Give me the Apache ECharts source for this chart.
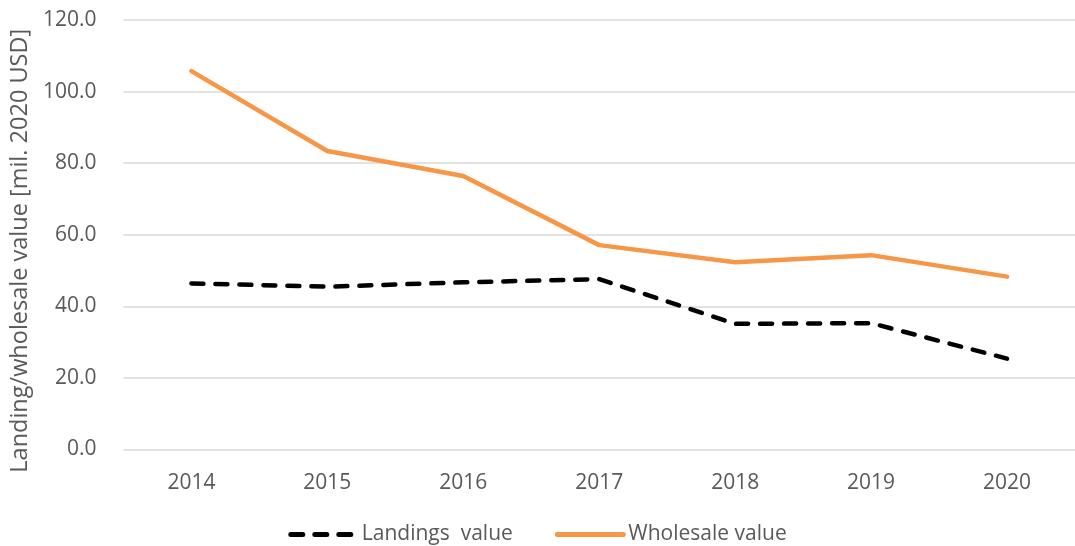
<!DOCTYPE html>
<html>
<head>
<meta charset="utf-8">
<script src="https://cdn.jsdelivr.net/npm/echarts@6/dist/echarts.min.js"></script>
<style>
  html, body { margin: 0; padding: 0; background: #fff; }
  #chart { width: 1075px; height: 546px; }
</style>
</head>
<body>
<div id="chart"></div>
<script>
const years = ['2014', '2015', '2016', '2017', '2018', '2019', '2020']
const landings = [46.4, 45.5, 46.7, 47.6, 35.1, 35.3, 25.4]
const wholesale = [105.7, 83.4, 76.4, 57.1, 52.3, 54.3, 48.3]
const yTicks = [0, 20, 40, 60, 80, 100, 120]

const textColor = '#595959'
const font = '"Open Sans", "Noto Sans", sans-serif'

const chart = echarts.init(document.getElementById('chart'))
chart.setOption({
  animation: false,
  textStyle: { fontFamily: font, color: textColor },
  grid: { left: 120, top: 20, width: 960, height: 429.5 },
  legend: {
    bottom: -4,
    left: 'center',
    itemWidth: 66,
    itemHeight: 14,
    itemGap: 42,
    itemStyle: { opacity: 0 },
    lineStyle: { width: 5, cap: 'round' },
    textStyle: { fontSize: 21, color: textColor, fontFamily: font },
    data: ['Landings  value', 'Wholesale value']
  },
  xAxis: {
    type: 'category',
    data: years,
    boundaryGap: true,
    axisLine: { show: false },
    axisTick: { show: false },
    axisLabel: { fontSize: 21, color: textColor, margin: 23 }
  },
  yAxis: {
    type: 'value',
    min: yTicks[0],
    max: yTicks[yTicks.length - 1],
    interval: 20,
    name: 'Landing/wholesale value [mil. 2020 USD]',
    nameLocation: 'middle',
    nameGap: 90,
    nameTextStyle: { fontSize: 23.5, color: textColor, padding: [0, 32, 0, 0] },
    axisLine: { show: false },
    axisTick: { show: false },
    axisLabel: {
      fontSize: 21,
      color: textColor,
      margin: 27,
      formatter: v => v.toFixed(1)
    },
    splitLine: { lineStyle: { color: '#D9D9D9', width: 1.5 } }
  },
  series: [
    {
      name: 'Landings  value',
      type: 'line',
      data: landings,
      symbol: 'none',
      lineStyle: { color: '#000000', width: 4.5, type: [12, 12], cap: 'round', join: 'round' },
      itemStyle: { color: '#000000' }
    },
    {
      name: 'Wholesale value',
      type: 'line',
      data: wholesale,
      symbol: 'none',
      lineStyle: { color: '#F79646', width: 4.5, cap: 'round', join: 'round' },
      itemStyle: { color: '#F79646' }
    }
  ]
})
</script>
</body>
</html>
